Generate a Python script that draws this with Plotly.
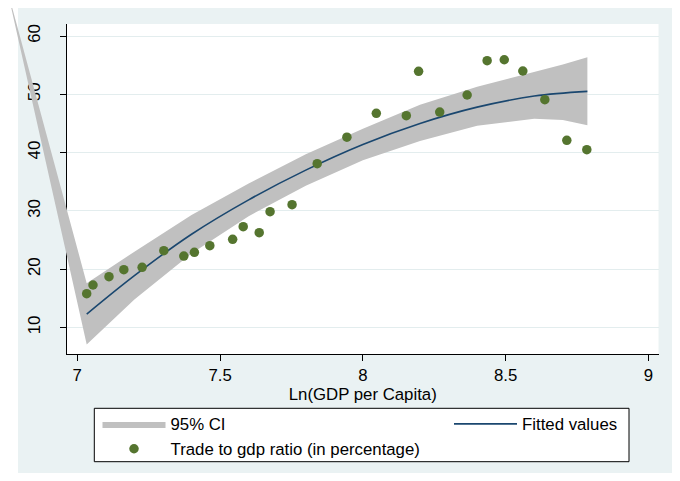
import plotly.graph_objects as go

# ---------------- data ----------------
gdp_ln = [7.033, 7.055, 7.111, 7.163, 7.227, 7.303, 7.373, 7.410, 7.464, 7.544,
          7.581, 7.637, 7.675, 7.752, 7.840, 7.944, 8.047, 8.152, 8.195, 8.269,
          8.365, 8.435, 8.495, 8.560, 8.637, 8.714, 8.784]
trade_ratio = [15.80, 17.29, 18.71, 19.91, 20.33, 23.17, 22.26, 22.90, 24.03, 25.13,
               27.29, 26.26, 29.86, 31.06, 38.10, 42.65, 46.74, 46.33, 53.94, 46.96,
               49.88, 55.76, 55.93, 54.00, 49.07, 42.11, 40.50]

fit_x = [7.033, 7.2, 7.4, 7.6, 7.8, 8.0, 8.2, 8.4, 8.6, 8.786]
fit_y = [12.3, 18.9, 26.0, 31.9, 37.0, 41.4, 45.0, 47.8, 49.7, 50.5]

# CI band (first vertex is the stray point that makes the wedge in the original)
ci_x = [6.752, 7.033, 7.2, 7.4, 7.6, 7.8, 8.0, 8.2, 8.4, 8.6, 8.7, 8.786]
ci_upper = [68.5, 17.6, 23.0, 29.3, 34.7, 39.7, 44.1, 48.2, 51.3, 53.8, 55.1, 56.35]
ci_lower = [68.5, 7.1, 14.8, 22.7, 29.1, 34.3, 38.7, 42.0, 44.6, 45.8, 45.6, 44.7]

x_ticks = [7, 7.5, 8, 8.5, 9]
y_ticks = [10, 20, 30, 40, 50, 60]

# ---------------- geometry (page has an 8px body margin) ----------------
W, H = 672, 465
PL, PR, PT, PB = 59, 650.5, 16, 346          # plot box in figure pixels
x_rng = [6.964, 9.035]
y_rng = [5.455, 62.06]
pxu = (PR - PL) / (x_rng[1] - x_rng[0])
pyu = (PB - PT) / (y_rng[1] - y_rng[0])
x2_rng = [x_rng[0] - PL / pxu, x_rng[1] + (W - PR) / pxu]
y2_rng = [y_rng[0] - (H - PB) / pyu, y_rng[1] + PT / pyu]

# legend frame (figure pixels)
LBX0, LBX1, LBY0, LBY1 = 86.3, 621, 400.3, 453.7

FONT = "Liberation Sans, Arial, sans-serif"
FS = 16.8
BG = "#eaf2f3"
GREEN = "#55752f"
NAVY = "#1a476f"
GRAY = "#c0c0c0"

fig = go.Figure()
# empty trace so that the framed axes (ticks, grid) are built
fig.add_trace(go.Scatter(x=[], y=[], showlegend=False, hoverinfo="skip", xaxis="x", yaxis="y"))
fig.add_trace(go.Scatter(x=ci_x, y=ci_lower, mode="lines", line=dict(width=0, color=GRAY),
                         showlegend=False, hoverinfo="skip", legendgroup="ci",
                         xaxis="x2", yaxis="y2"))
fig.add_trace(go.Scatter(x=ci_x, y=ci_upper, mode="lines", line=dict(width=0, color=GRAY),
                         fill="tonexty", fillcolor=GRAY, name="95% CI",
                         legend="legend", legendgroup="ci", xaxis="x2", yaxis="y2"))
fig.add_trace(go.Scatter(x=fit_x, y=fit_y, mode="lines", line=dict(color=NAVY, width=1.6, shape="spline"),
                         name="Fitted values", legend="legend2", legendgroup="fit",
                         xaxis="x2", yaxis="y2"))
fig.add_trace(go.Scatter(x=gdp_ln, y=trade_ratio, mode="markers",
                         marker=dict(color=GREEN, size=9.5, line=dict(width=0)),
                         name="Trade to gdp ratio (in percentage)", legend="legend",
                         legendgroup="trade", xaxis="x2", yaxis="y2"))

legend_common = dict(orientation="v", xanchor="left", yanchor="top",
                     bgcolor="rgba(0,0,0,0)", borderwidth=0,
                     font=dict(size=FS, family=FONT, color="black"),
                     itemwidth=63, traceorder="grouped", tracegroupgap=0)

fig.update_layout(
    width=W, height=H,
    margin=dict(l=0, r=0, t=0, b=0, autoexpand=False),
    paper_bgcolor=BG, plot_bgcolor="rgba(0,0,0,0)",
    font=dict(family=FONT, size=FS, color="black"),
    shapes=[
        dict(type="rect", xref="paper", yref="paper", layer="below",
             x0=PL / W, x1=PR / W, y0=1 - PB / H, y1=1 - PT / H,
             fillcolor="white", line=dict(width=0)),
        dict(type="rect", xref="paper", yref="paper", layer="below",
             x0=0, x1=10 / W, y0=0, y1=1, fillcolor="white", line=dict(width=0)),
        dict(type="rect", xref="paper", yref="paper", layer="above",
             x0=LBX0 / W, x1=LBX1 / W, y0=1 - LBY1 / H, y1=1 - LBY0 / H,
             fillcolor="white", line=dict(width=1, color="black")),
    ],
    xaxis=dict(domain=[PL / W, PR / W], range=x_rng, anchor="y",
               tickvals=x_ticks, showgrid=False, zeroline=False,
               showline=True, linecolor="black", linewidth=1,
               ticks="outside", ticklen=6, tickcolor="black",
               tickfont=dict(size=FS),
               title=dict(text="Ln(GDP per Capita)", standoff=2, font=dict(size=FS))),
    yaxis=dict(domain=[1 - PB / H, 1 - PT / H], range=y_rng, anchor="x",
               tickvals=y_ticks, tickangle=-90, showgrid=True, gridcolor="#e3edee",
               gridwidth=1, zeroline=False, ticklabelstandoff=13,
               tickfont=dict(size=FS),
               showline=True, linecolor="black", linewidth=1,
               ticks="outside", ticklen=6, tickcolor="black"),
    xaxis2=dict(domain=[0, 1], range=x2_rng, anchor="y2", visible=False),
    yaxis2=dict(domain=[0, 1], range=y2_rng, anchor="x2", visible=False),
    legend=dict(x=(97.5 - 8) / W, y=1 - (406.5 - 8) / H, **legend_common),
    legend2=dict(x=(449 - 8) / W, y=1 - (406.5 - 8) / H, **legend_common),
)

fig.write_html("out.html")
